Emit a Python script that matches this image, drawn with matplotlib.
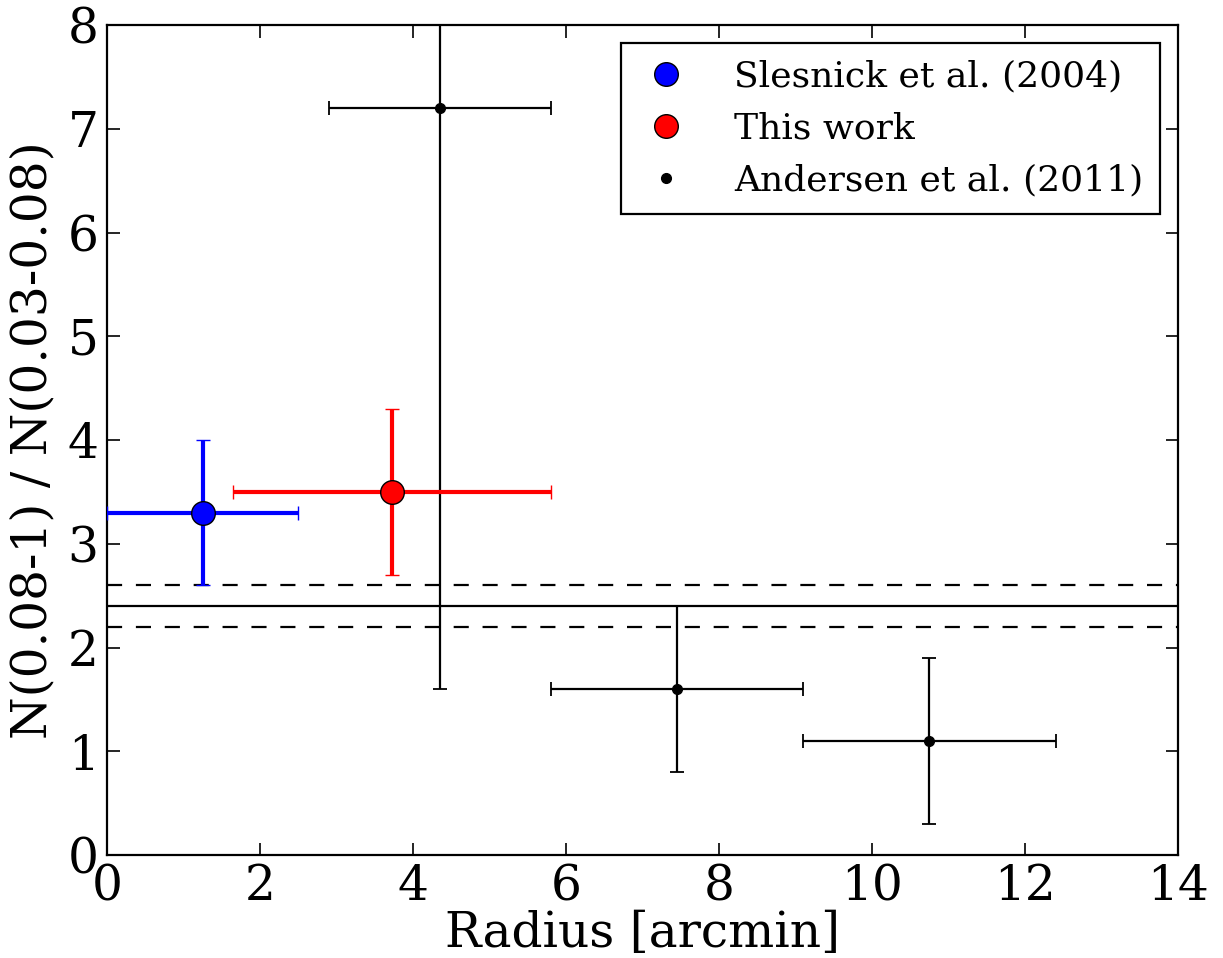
import matplotlib
matplotlib.use("Agg")
import matplotlib.pyplot as plt
from matplotlib.lines import Line2D

# Data
slesnick_x = [1.25]
slesnick_y = [3.3]
slesnick_xerr = [1.25]
slesnick_yerr = [0.7]

this_x = [3.72]
this_y = [3.5]
this_xerr_lo = [2.07]
this_xerr_hi = [2.08]
this_yerr = [0.8]

andersen_x = [4.35, 7.45, 10.75]
andersen_y = [7.2, 1.6, 1.1]
andersen_xerr_lo = [1.45, 1.65, 1.65]
andersen_xerr_hi = [1.45, 1.65, 1.65]
andersen_yerr = [5.6, 0.8, 0.8]

ref_level = 2.4
ref_band = [2.2, 2.6]

labels = ["Slesnick et al. (2004)", "This work", "Andersen et al. (2011)"]

plt.rcParams['font.family'] = ['DejaVu Serif']
plt.rcParams['mathtext.fontset'] = 'dejavuserif'

fig = plt.figure(figsize=(12.23, 9.58), dpi=100)
ax = fig.add_axes([107/1223, 1-855/958, (1178-107)/1223, (855-25)/958])

ax.errorbar(slesnick_x, slesnick_y, xerr=slesnick_xerr, yerr=slesnick_yerr,
            fmt='o', color='blue', mfc='blue', mec='black', mew=1.0, ms=17,
            elinewidth=3, capsize=5, capthick=2.5, zorder=5)
ax.errorbar(this_x, this_y, xerr=[this_xerr_lo, this_xerr_hi], yerr=this_yerr,
            fmt='o', color='red', mfc='red', mec='black', mew=1.0, ms=17,
            elinewidth=3, capsize=5, capthick=2.5, zorder=5)
ax.errorbar(andersen_x, andersen_y, xerr=[andersen_xerr_lo, andersen_xerr_hi],
            yerr=andersen_yerr, fmt='o', color='black', ms=7,
            elinewidth=1.6, capsize=5, capthick=1.3, zorder=4)

ax.axhline(ref_level, color='black', lw=1.6)
for v in ref_band:
    ax.axhline(v, color='black', lw=1.6, ls=(0, (6.8, 6.2)))

ax.set_xlim(0, 14)
ax.set_ylim(0, 8)
ax.set_xticks(range(0, 15, 2))
ax.set_yticks(range(0, 9))

for s in ax.spines.values():
    s.set_linewidth(1.6)
ax.tick_params(direction='in', top=True, right=True, length=9, width=1.2,
               labelsize=35, pad=6)

ax.set_xlabel("Radius [arcmin]", fontsize=35, labelpad=0)
ax.set_ylabel("N(0.08-1) / N(0.03-0.08)", fontsize=35, labelpad=8)

handles = [
    Line2D([], [], ls='none', marker='o', mfc='blue', mec='black', ms=17, mew=1.0),
    Line2D([], [], ls='none', marker='o', mfc='red', mec='black', ms=17, mew=1.0),
    Line2D([], [], ls='none', marker='o', mfc='black', mec='black', ms=7),
]
leg = ax.legend(handles, labels, loc='upper right', fontsize=26, numpoints=1,
                fancybox=False, framealpha=1, edgecolor='black',
                handlelength=1.6, handletextpad=1.1, borderaxespad=0.5,
                labelspacing=0.5, borderpad=0.45)
leg.get_frame().set_linewidth(1.6)

fig.savefig("out.png", dpi=100)
